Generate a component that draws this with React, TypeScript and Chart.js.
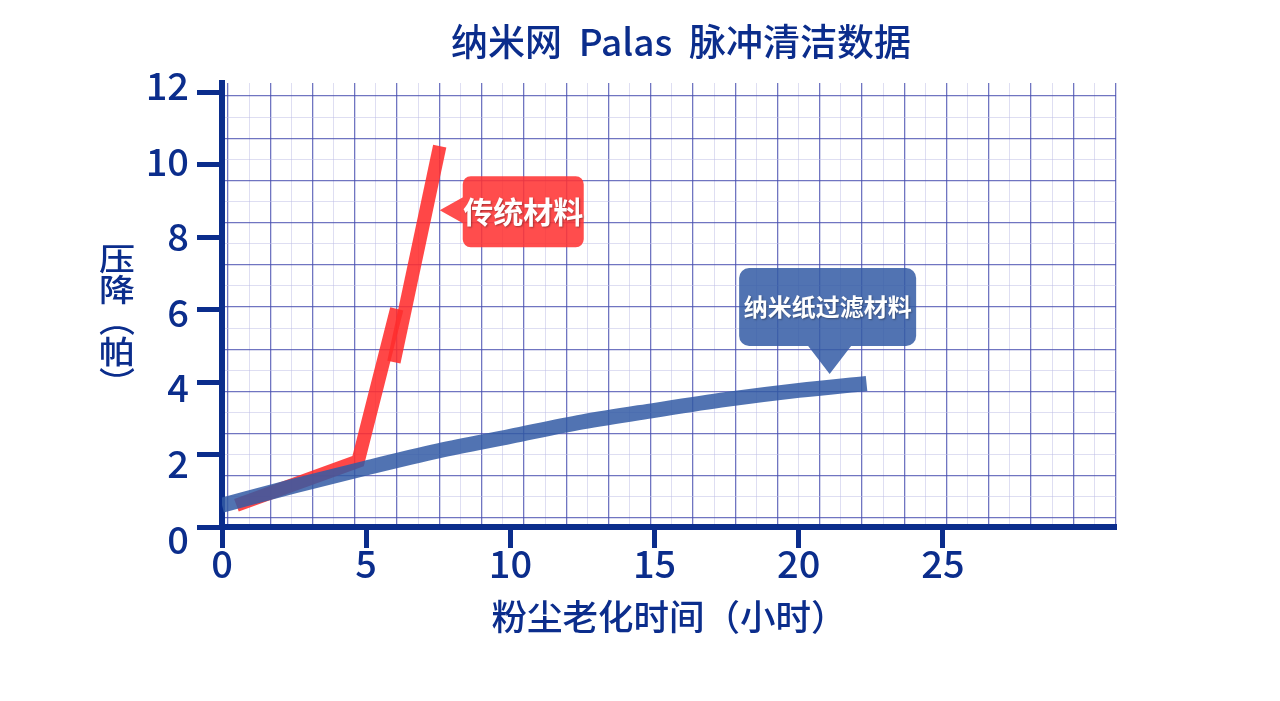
import React, { useEffect, useRef } from 'react';
import { Chart, registerables } from 'chart.js';

Chart.register(...registerables);

// 纳米纸过滤材料 (blue curve)
const nanoHours = [0, 2.5, 5, 7.5, 10, 12.5, 15, 17.5, 20, 22.35];
const nanoPressure = [0.6, 1.13, 1.63, 2.1, 2.5, 2.9, 3.22, 3.52, 3.77, 3.96];

// 传统材料 (red line, drawn in two overlapping pieces like the original)
const classicLowerHours = [0.5, 4.72, 6.06];
const classicLowerPressure = [0.6, 1.82, 6.02];
const classicUpperHours = [5.96, 7.55];
const classicUpperPressure = [4.55, 10.51];

const xTicks = [0, 5, 10, 15, 20, 25];
const yTicks = [0, 2, 4, 6, 8, 10, 12];

const chartTitle = '纳米网  Palas  脉冲清洁数据';
const xTitle = '粉尘老化时间（小时）';
const yTitleChars = ['压', '降', '︵', '帕', '︶'];

const NAVY = '#0b2d8c';
const FONT = '"Noto Sans CJK SC", "Noto Sans", sans-serif';

// graph-paper grid: major line every 42px, minor halfway between
const gridX: number[] = [];
for (let i = 0; i <= 42; i++) gridX.push(0.208 + i * 0.73286);
const gridY: number[] = [];
for (let i = 0; i <= 20; i++) gridY.push(0.248 + i * 0.582);

const gridColor = (ctx: any) => (ctx.index % 2 === 0 ? 'rgba(72,78,175,0.78)' : 'rgba(190,190,230,0.5)');
const gridWidth = (ctx: any) => (ctx.index % 2 === 0 ? 1.3 : 1);

const callouts = [
  { text: '传统材料', hour: 7.55, pressure: 8.74, side: 'left', fill: 'rgba(255,52,52,0.88)', w: 121, h: 71, size: 30 },
  { text: '纳米纸过滤材料', hour: 21.07, pressure: 4.22, side: 'bottom', fill: 'rgba(52,92,165,0.86)', w: 177, h: 78, size: 24 },
];

const toPoints = (xs: number[], ys: number[]) => xs.map((x, i) => ({ x, y: ys[i] }));

const decorations = {
  id: 'decorations',
  afterDatasetsDraw(chart: any) {
    const { ctx, scales } = chart;
    ctx.save();
    for (const c of callouts) {
      const px = scales.x.getPixelForValue(c.hour);
      const py = scales.y.getPixelForValue(c.pressure);
      let bx: number, by: number;
      ctx.beginPath();
      if (c.side === 'left') {
        bx = px + 23;
        by = py - 34;
        ctx.roundRect(bx, by, c.w, c.h, 8);
        ctx.moveTo(px, py);
        ctx.lineTo(bx + 2, py - 14);
        ctx.lineTo(bx + 2, py + 14);
        ctx.closePath();
      } else {
        bx = px - c.w / 2 - 2;
        by = py - 28 - c.h;
        ctx.roundRect(bx, by, c.w, c.h, 10);
        ctx.moveTo(px, py);
        ctx.lineTo(px - 23, by + c.h - 2);
        ctx.lineTo(px + 23, by + c.h - 2);
        ctx.closePath();
      }
      ctx.fillStyle = c.fill;
      ctx.fill('nonzero');
      ctx.save();
      ctx.shadowColor = 'rgba(0,0,0,0.35)';
      ctx.shadowBlur = 2;
      ctx.shadowOffsetX = 1;
      ctx.shadowOffsetY = 1;
      ctx.fillStyle = '#ffffff';
      ctx.font = `bold ${c.size}px ${FONT}`;
      ctx.textAlign = 'center';
      ctx.textBaseline = 'middle';
      ctx.fillText(c.text, bx + c.w / 2, by + c.h / 2);
      ctx.restore();
    }
    ctx.restore();
  },
  afterDraw(chart: any) {
    const { ctx } = chart;
    ctx.save();
    ctx.fillStyle = NAVY;
    ctx.textAlign = 'center';
    ctx.textBaseline = 'middle';
    ctx.font = `500 37px ${FONT}`;
    ctx.fillText(chartTitle, 681, 42);
    // vertical axis title, characters stacked upright and slightly squashed
    ctx.font = `500 36px ${FONT}`;
    yTitleChars.forEach((ch, i) => {
      ctx.save();
      ctx.translate(117, 258 + i * 31);
      ctx.scale(1, 0.86);
      ctx.fillText(ch, 0, 0);
      ctx.restore();
    });
    ctx.restore();
  },
};

export default function App() {
  const canvasRef = useRef<HTMLCanvasElement>(null);

  useEffect(() => {
    document.body.style.margin = '0';
    if (!canvasRef.current) return;

    const lineStyle = { pointRadius: 0, borderCapStyle: 'butt', borderJoinStyle: 'miter', fill: false, xAxisID: 'x', yAxisID: 'y' };

    const chart = new Chart(canvasRef.current, {
      type: 'line',
      data: {
        datasets: [
          { ...lineStyle, label: '纳米纸过滤材料', data: toPoints(nanoHours, nanoPressure), borderColor: 'rgba(50,90,165,0.85)', borderWidth: 15, cubicInterpolationMode: 'monotone' },
          { ...lineStyle, label: '传统材料', data: toPoints(classicLowerHours, classicLowerPressure), borderColor: 'rgba(255,45,45,0.88)', borderWidth: 13.5, tension: 0 },
          { ...lineStyle, label: '传统材料 ', data: toPoints(classicUpperHours, classicUpperPressure), borderColor: 'rgba(255,45,45,0.88)', borderWidth: 13.5, tension: 0 },
        ],
      } as any,
      options: {
        animation: false,
        responsive: false,
        layout: { padding: { top: 83, right: 164, bottom: 0, left: 0 } },
        plugins: {
          legend: { display: false },
          title: { display: false },
          tooltip: { enabled: false },
        },
        scales: {
          x: {
            type: 'linear',
            position: 'bottom',
            min: 0,
            max: 31,
            afterBuildTicks: (s: any) => { s.ticks = xTicks.map((v) => ({ value: v })); },
            afterFit: (s: any) => { s.height = 174; },
            grid: { drawOnChartArea: false, drawTicks: true, tickLength: 21, tickWidth: 5, tickColor: NAVY },
            border: { display: true, width: 6, color: NAVY },
            ticks: { color: NAVY, font: { family: FONT, size: 38, weight: '500' }, padding: -7 },
            title: { display: true, text: xTitle, color: NAVY, font: { family: FONT, size: 35.5, weight: '500' }, padding: { top: 0, bottom: 63 } },
          },
          // value axis: axis line and tick marks
          y: {
            type: 'linear',
            position: 'left',
            weight: 0,
            min: 0,
            max: 12.25,
            afterBuildTicks: (s: any) => { s.ticks = yTicks.map((v) => ({ value: v })); },
            afterFit: (s: any) => { s.width = 0; },
            grid: { drawOnChartArea: false, drawTicks: true, tickLength: 25, tickWidth: 5, tickColor: NAVY },
            border: { display: true, width: 6, color: NAVY },
            ticks: { display: false },
          },
          // value labels sit on a slightly stretched scale in the original
          yLabels: {
            type: 'linear',
            axis: 'y',
            position: 'left',
            weight: 1,
            min: 0.32,
            max: 12.08,
            afterBuildTicks: (s: any) => { s.ticks = yTicks.map((v) => ({ value: v })); },
            afterFit: (s: any) => { s.width = 222; },
            grid: { display: false, drawTicks: false },
            border: { display: false },
            ticks: { color: NAVY, font: { family: FONT, size: 38, weight: '500' }, padding: 33 },
          },
          gx: {
            type: 'linear',
            axis: 'x',
            position: 'top',
            min: 0,
            max: 31,
            afterBuildTicks: (s: any) => { s.ticks = gridX.map((v) => ({ value: v })); },
            afterFit: (s: any) => { s.height = 0; },
            ticks: { display: false },
            border: { display: false },
            grid: { drawTicks: false, color: gridColor, lineWidth: gridWidth },
          },
          gy: {
            type: 'linear',
            axis: 'y',
            position: 'right',
            min: 0,
            max: 12.25,
            afterBuildTicks: (s: any) => { s.ticks = gridY.map((v) => ({ value: v })); },
            afterFit: (s: any) => { s.width = 0; },
            ticks: { display: false },
            border: { display: false },
            grid: { drawTicks: false, color: gridColor, lineWidth: gridWidth },
          },
        },
      } as any,
      plugins: [decorations],
    });

    return () => chart.destroy();
  }, []);

  return (
    <div style={{ width: 1280, height: 701, background: '#ffffff' }}>
      <canvas ref={canvasRef} width={1280} height={701} />
    </div>
  );
}
